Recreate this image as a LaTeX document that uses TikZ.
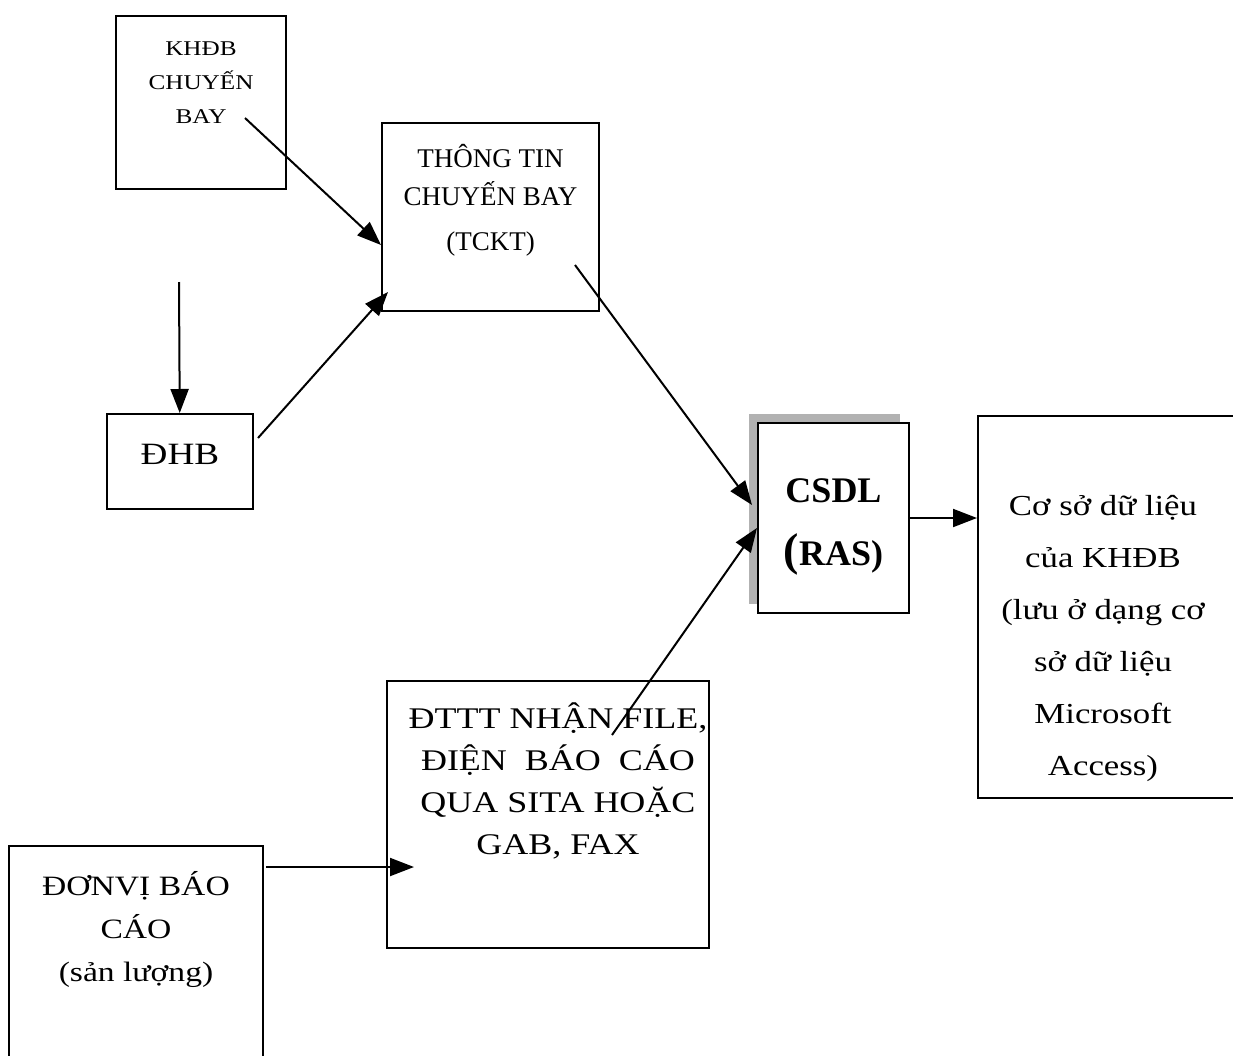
\documentclass[tikz,border=0pt]{standalone}
\usepackage{fontspec}
\setmainfont{Liberation Serif}
\newfontfamily\widefont[FakeStretch=1.2]{Liberation Serif}
\usetikzlibrary{arrows.meta,shadows}

\begin{document}
\begin{tikzpicture}[x=1pt,y=-1pt]

        \clip (0,0) rectangle (1233,1055);

        \begin{scope}[every node/.style={draw, fill=white, line width=2pt, inner sep=0pt, anchor=north west}]
          \node (khdb) at (115,15)  {\parbox[t][173pt][t]{170pt}{\centering\widefont\fontsize{21}{34}\selectfont\vspace*{26pt}KHĐB\\CHUYẾN\\BAY}};
          \node (tt)   at (381,122) {\parbox[t][188pt][t]{217pt}{\centering\fontsize{27}{40}\selectfont\vspace*{21pt}THÔNG TIN\\[-2pt]CHUYẾN BAY\\[5pt](TCKT)}};
          \node (dhb)  at (106,413) {\parbox[t][95pt][t]{146pt}{\centering\widefont\fontsize{31}{36}\selectfont\vspace*{30pt}ĐHB}};
          \node[drop shadow={shadow xshift=-9pt, shadow yshift=9pt, fill=black!30, opacity=1}]
                (csdl) at (757,422) {\parbox[t][190pt][t]{151pt}{\centering\fontsize{36}{63}\selectfont\bfseries\vspace*{56pt}CSDL\\{\fontsize{46}{46}\selectfont(}RAS)}};
          \node (db)   at (977,415) {\parbox[t][382pt][t]{250pt}{\centering\widefont\fontsize{29}{52}\selectfont\vspace*{79pt}Cơ sở dữ liệu\\của KHĐB\\(lưu ở dạng cơ\\sở\ dữ liệu\\Microsoft\\Access)}\hspace*{14pt}};
          \node (dttt) at (386,680) {\hspace*{20pt}\parbox[t][267pt][t]{302pt}{\centering\widefont\fontsize{30}{42}\selectfont\vspace*{22pt}ĐTTT NHẬN FILE,\\ĐIỆN\ \ BÁO\ \ CÁO\\QUA SITA HOẶC\\GAB, FAX}};
          \node (dv)   at (8,845)   {\parbox[t][230pt][t]{254pt}{\centering\widefont\fontsize{28}{43}\selectfont\vspace*{25pt}ĐƠNVỊ BÁO\\CÁO\\(sản\ lượng)}};
        \end{scope}

        \coordinate (k1) at (245,118);
        \coordinate (k2) at (381,245);
        \coordinate (h0) at (179,282);
        \coordinate (h1) at (258,438);
        \coordinate (h2) at (388,292);
        \coordinate (t1) at (575,265);
        \coordinate (t2) at (752,505);
        \coordinate (d1) at (612,735);
        \coordinate (d2) at (757,528);
        \coordinate (v1) at (266,867);
        \coordinate (v2) at (414,867);

        \begin{scope}[every edge/.style={draw, line width=2pt, -{Triangle[length=24pt,width=18pt]}}]
          \path (k1)  edge (k2);
          \path (h0)  edge (dhb);
          \path (h1)  edge (h2);
          \path (t1)  edge (t2);
          \path (d1)  edge (d2);
          \path (csdl.east) edge (csdl.east -| db.west);
          \path (v1)  edge (v2);
        \end{scope}

      \end{tikzpicture}
\end{document}
